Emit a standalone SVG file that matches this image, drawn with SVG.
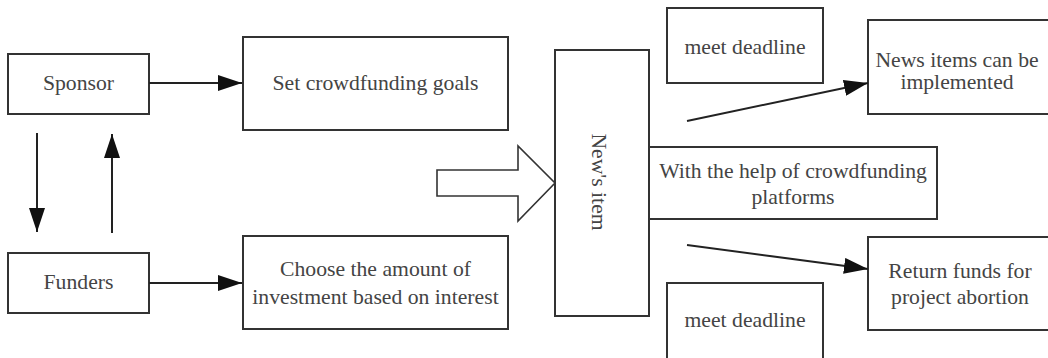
<svg xmlns="http://www.w3.org/2000/svg" width="1048" height="358" viewBox="0 0 1048 358">
<style>
.box{fill:#fff;stroke:#333;stroke-width:2}
.t{font-family:"Liberation Serif","Times New Roman",serif;font-size:21.7px;fill:#444;text-anchor:middle;dominant-baseline:central}
.c{stroke:#222;stroke-width:2;fill:none}
</style>
<defs>
<marker id="ah" markerUnits="userSpaceOnUse" markerWidth="24" markerHeight="16" refX="24" refY="8" orient="auto">
<path d="M0,0 L24,8 L0,16 z" fill="#111"/>
</marker>
</defs>
<rect width="1048" height="358" fill="#fff"/>
<g id="sponsor"><rect class="box" x="8" y="54" width="141" height="60"/><text class="t" x="78.5" y="83">Sponsor</text></g>
<g id="funders"><rect class="box" x="8" y="253" width="141" height="60"/><text class="t" x="78.5" y="282">Funders</text></g>
<g id="goals"><rect class="box" x="243" y="37" width="265" height="93"/><text class="t" x="375.5" y="83">Set crowdfunding goals</text></g>
<g id="choose"><rect class="box" x="243" y="236" width="265" height="93"/><text class="t" x="375.5" y="269">Choose the amount of</text><text class="t" x="375.5" y="297">investment based on interest</text></g>
<g id="bigarrow"><polygon points="437,170 518,170 518,146 555,183 518,221 518,196 437,196" fill="#fff" stroke="#333" stroke-width="1.6"/></g>
<g id="newsitem"><rect class="box" x="555" y="50" width="94" height="266"/><text class="t" transform="translate(599,182) rotate(90)" x="0" y="0">New's item</text></g>
<g id="platforms"><rect class="box" x="649" y="147" width="288" height="72"/><text class="t" x="793" y="171">With the help of crowdfunding</text><text class="t" x="793" y="197">platforms</text></g>
<g id="deadline1"><rect class="box" x="667" y="8" width="156" height="75"/><text class="t" x="745" y="47">meet deadline</text></g>
<g id="implemented"><rect class="box" x="868" y="20" width="190" height="94"/><text class="t" x="957" y="60">News items can be</text><text class="t" x="957" y="82">implemented</text></g>
<g id="returnfunds"><rect class="box" x="868" y="237" width="190" height="93"/><text class="t" x="960" y="271">Return funds for</text><text class="t" x="960" y="297">project abortion</text></g>
<g id="deadline2"><rect class="box" x="667" y="283" width="156" height="90"/><text class="t" x="745" y="320">meet deadline</text></g>
<g id="connectors">
<line class="c" x1="149" y1="83" x2="242" y2="83" marker-end="url(#ah)"/>
<line class="c" x1="149" y1="283" x2="242" y2="283" marker-end="url(#ah)"/>
<line class="c" x1="37" y1="133" x2="37" y2="232" marker-end="url(#ah)"/>
<line class="c" x1="112" y1="233" x2="112" y2="134" marker-end="url(#ah)" stroke="#555"/>
<line class="c" x1="687" y1="121" x2="868" y2="83" marker-end="url(#ah)"/>
<line class="c" x1="687" y1="245" x2="868" y2="269" marker-end="url(#ah)"/>
</g>
</svg>
